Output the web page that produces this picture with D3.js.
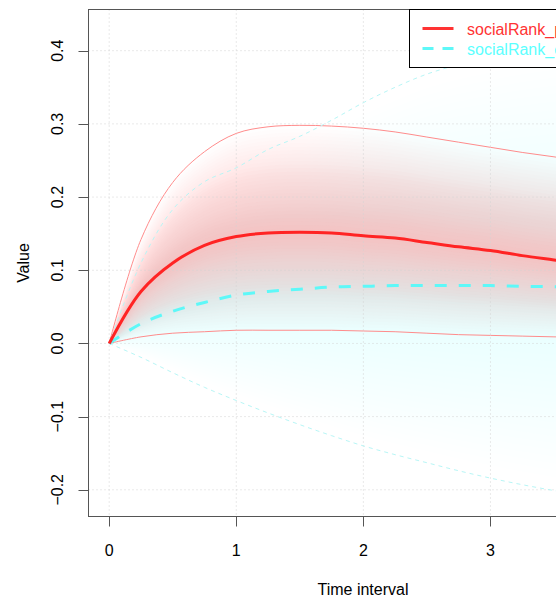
<!DOCTYPE html>
<html lang="en">
<head>
    <meta charset="UTF-8">
    <title>socialRank response over time</title>
    <style>
        body { margin: 0; background: #fff; }
        svg { display: block; font-family: "Liberation Sans", Arial, sans-serif; }
        .tick-label, .axis-title, .legend-text { font-size: 16px; }
    </style>
</head>
<body>
    <div id="chart"></div>

    <script src="https://d3js.org/d3.v7.min.js"></script>
    <script>
        // Values
        const time = [0, 0.25, 0.5, 0.75, 1, 1.25, 1.5, 1.75, 2, 2.25, 2.5, 2.75, 3, 3.25, 3.5, 3.75, 4];

        const redMean  = [0, 0.071, 0.110, 0.134, 0.146, 0.151, 0.152, 0.151, 0.147, 0.144, 0.138, 0.132, 0.127, 0.120, 0.114, 0.108, 0.102];
        const redUpper = [0, 0.142, 0.220, 0.262, 0.287, 0.296, 0.298, 0.297, 0.294, 0.289, 0.282, 0.275, 0.268, 0.261, 0.255, 0.248, 0.242];
        const redLower = [0, 0.009, 0.014, 0.016, 0.018, 0.018, 0.018, 0.018, 0.017, 0.016, 0.014, 0.012, 0.011, 0.010, 0.009, 0.008, 0.007];

        const cyanMean  = [0, 0.027, 0.044, 0.056, 0.066, 0.071, 0.074, 0.077, 0.078, 0.079, 0.079, 0.079, 0.079, 0.078, 0.0775, 0.077, 0.076];
        const cyanUpper = [0, 0.110, 0.183, 0.221, 0.240, 0.265, 0.283, 0.305, 0.329, 0.350, 0.368, 0.381, 0.391, 0.400, 0.407, 0.413, 0.418];
        const cyanLower = [0, -0.019, -0.040, -0.060, -0.078, -0.095, -0.111, -0.126, -0.140, -0.152, -0.163, -0.174, -0.184, -0.193, -0.201, -0.208, -0.214];

        const xTicks = [0, 1, 2, 3, 4];
        const yTicks = [-0.2, -0.1, 0.0, 0.1, 0.2, 0.3, 0.4];
        const legendLabels = ['socialRank_p', 'socialRank_c'];

        const W = 556, H = 601;
        const box = { left: 88.5, top: 9.5, right: 637.5, bottom: 516.5 };

        const svg = d3.select('#chart').append('svg')
            .attr('width', W)
            .attr('height', H);

        const x = d3.scaleLinear().domain([0, 4]).range([109.2, 617.5]);
        const y = d3.scaleLinear().domain([-0.2, 0.4]).range([489.8, 50.7]);

        const smooth = d3.curveCatmullRom.alpha(0.5);
        const plot = svg.append('g');

        // fan band: nested layers, opacity fading from mean out to the bounds
        function drawFan(mean, upper, lower, color, maxA, power) {
            const N = 30;
            const target = k => k > N ? 0 : maxA * Math.pow(1 - (k - 0.5) / N, power);
            const rows = time.map((t, i) => ({ t: t, m: mean[i], u: upper[i], l: lower[i] }));
            for (let k = N; k >= 1; k--) {
                const s = k / N;
                const a = 1 - (1 - target(k)) / (1 - target(k + 1));
                const area = d3.area()
                    .x(d => x(d.t))
                    .y0(d => y(d.m + s * (d.l - d.m)))
                    .y1(d => y(d.m + s * (d.u - d.m)))
                    .curve(smooth);
                plot.append('path')
                    .datum(rows)
                    .attr('d', area)
                    .attr('fill', color)
                    .attr('fill-opacity', a);
            }
        }

        drawFan(cyanMean, cyanUpper, cyanLower, '#b0ffff', 0.32, 1.3);
        drawFan(redMean, redUpper, redLower, '#ffb6b6', 0.75, 1);

        // grid
        plot.selectAll('.vgrid').data(xTicks).enter().append('line')
            .attr('x1', d => x(d)).attr('x2', d => x(d))
            .attr('y1', box.top).attr('y2', box.bottom)
            .attr('stroke', '#d3d3d3').attr('stroke-dasharray', '1,3');
        plot.selectAll('.hgrid').data(yTicks).enter().append('line')
            .attr('y1', d => y(d)).attr('y2', d => y(d))
            .attr('x1', box.left).attr('x2', box.right)
            .attr('stroke', '#d3d3d3').attr('stroke-dasharray', '1,3');

        const line = arr => d3.line()
            .x((d, i) => x(time[i]))
            .y(d => y(d))
            .curve(smooth)(arr);

        // band bounds
        plot.append('path').attr('d', line(redUpper)).attr('fill', 'none')
            .attr('stroke', '#ff8c8c').attr('stroke-width', 1);
        plot.append('path').attr('d', line(redLower)).attr('fill', 'none')
            .attr('stroke', '#ff8c8c').attr('stroke-width', 1);
        plot.append('path').attr('d', line(cyanUpper)).attr('fill', 'none')
            .attr('stroke', '#b8f6f6').attr('stroke-width', 1).attr('stroke-dasharray', '4,4');
        plot.append('path').attr('d', line(cyanLower)).attr('fill', 'none')
            .attr('stroke', '#b8f6f6').attr('stroke-width', 1).attr('stroke-dasharray', '4,4');

        // means
        plot.append('path').attr('d', line(cyanMean)).attr('fill', 'none')
            .attr('stroke', '#5ef8f8').attr('stroke-width', 3).attr('stroke-dasharray', '12,12');
        plot.append('path').attr('d', line(redMean)).attr('fill', 'none')
            .attr('stroke', '#ff2424').attr('stroke-width', 3);

        // frame
        svg.append('rect')
            .attr('x', box.left).attr('y', box.top)
            .attr('width', box.right - box.left).attr('height', box.bottom - box.top)
            .attr('fill', 'none').attr('stroke', '#555');

        // x axis (the last tick sits past the visible edge)
        svg.selectAll('.xtick').data(xTicks).enter().append('line')
            .attr('x1', d => Math.round(x(d)) + 0.5).attr('x2', d => Math.round(x(d)) + 0.5)
            .attr('y1', box.bottom).attr('y2', box.bottom + 10)
            .attr('stroke', '#555');
        svg.selectAll('.xlab').data(xTicks.filter(d => x(d) < W)).enter().append('text')
            .attr('class', 'tick-label')
            .attr('x', d => x(d)).attr('y', 556)
            .attr('text-anchor', 'middle')
            .text(d => d);

        // y axis
        svg.selectAll('.ytick').data(yTicks).enter().append('line')
            .attr('y1', d => Math.round(y(d)) + 0.5).attr('y2', d => Math.round(y(d)) + 0.5)
            .attr('x1', box.left - 10).attr('x2', box.left)
            .attr('stroke', '#555');
        svg.selectAll('.ylab').data(yTicks).enter().append('text')
            .attr('class', 'tick-label')
            .attr('transform', d => `translate(62.5,${y(d)}) rotate(-90)`)
            .attr('text-anchor', 'middle')
            .text(d => d3.format('.1f')(d).replace('-', '\u2212'));

        svg.append('text')
            .attr('class', 'axis-title')
            .attr('x', (box.left + box.right) / 2).attr('y', 595)
            .attr('text-anchor', 'middle')
            .text('Time interval');
        svg.append('text')
            .attr('class', 'axis-title')
            .attr('transform', `translate(28.5,${(box.top + box.bottom) / 2}) rotate(-90)`)
            .attr('text-anchor', 'middle')
            .text('Value');

        // legend (top right, runs past the visible edge)
        const lg = svg.append('g');
        lg.append('rect')
            .attr('x', 409.5).attr('y', box.top)
            .attr('width', 300).attr('height', 58)
            .attr('fill', '#fff').attr('stroke', '#000');
        const legendStyle = [
            { color: '#ff3333', text: '#ff3333', dash: null, y: 28.5 },
            { color: '#5ef8f8', text: '#5cffff', dash: '11,9', y: 48.5 }
        ];
        legendStyle.forEach((s, i) => {
            lg.append('line')
                .attr('x1', 422.5).attr('x2', 453.5)
                .attr('y1', s.y).attr('y2', s.y)
                .attr('stroke', s.color).attr('stroke-width', 3)
                .attr('stroke-dasharray', s.dash);
            lg.append('text')
                .attr('class', 'legend-text')
                .attr('x', 467).attr('y', s.y + 6)
                .attr('fill', s.text)
                .text(legendLabels[i]);
        });
    </script>
</body>
</html>
